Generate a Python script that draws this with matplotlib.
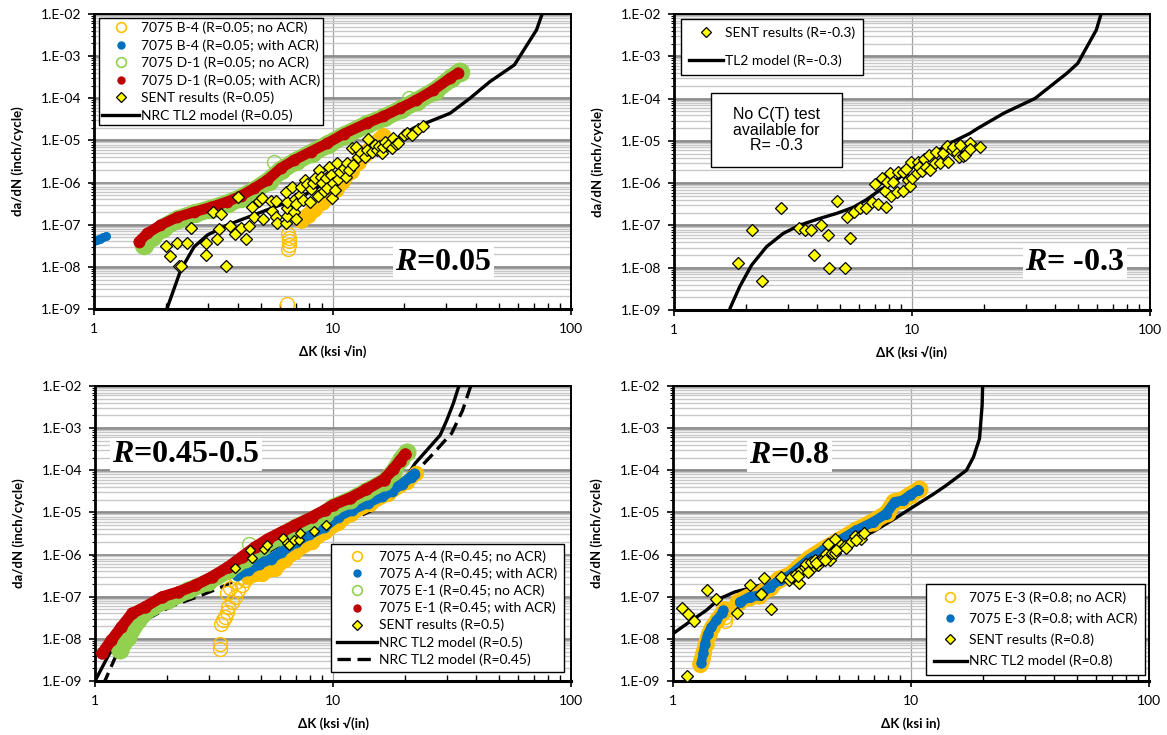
import numpy as np
import matplotlib
matplotlib.use("Agg")
import matplotlib.pyplot as plt
from matplotlib.lines import Line2D
from matplotlib.patches import Rectangle
from matplotlib.ticker import FixedLocator, LogLocator, FuncFormatter, NullFormatter

plt.rcParams['font.family'] = ['Lato', 'DejaVu Sans']
plt.rcParams['mathtext.fontset'] = 'custom'
plt.rcParams['mathtext.it'] = 'Liberation Serif:italic:bold'
plt.rcParams['mathtext.rm'] = 'Liberation Serif:bold'

ORANGE = '#FFC000'
BLUE = '#0070C0'
GREEN = '#92D050'
RED = '#C00000'
YELLOW = '#FFFF00'

# ---------------- R = 0.05 ----------------
b4_noacr_x = [7.4, 7.9, 8.4, 9.0, 9.6, 10.3, 11.0, 11.9, 12.8, 13.7, 14.7, 15.6, 16.3]
b4_noacr_y = [1.3e-7, 1.7e-7, 2.4e-7, 3.4e-7, 4.7e-7, 7.0e-7, 1.1e-6, 1.9e-6, 3.0e-6, 4.8e-6, 7.2e-6, 1.0e-5, 1.25e-5]
b4_noacr_ring_x = [6.45, 6.5, 6.55, 6.6, 6.55, 6.5]
b4_noacr_ring_y = [1.3e-9, 2.7e-8, 3.3e-8, 4.0e-8, 4.9e-8, 6.0e-8]
b4_acr_x = [1.0, 1.03, 1.06, 1.09, 1.12]
b4_acr_y = [4.1e-8, 4.4e-8, 4.7e-8, 5.0e-8, 5.3e-8]
d1_noacr_x = [1.62, 1.75, 1.95, 2.25, 2.65, 3.1, 3.65, 4.15, 4.75, 5.4, 6.1, 7.0, 8.2, 9.6,
              11.3, 14.0, 16.5, 19.4, 22.7, 26.8, 31.5, 34.3]
d1_noacr_y = [3.3e-8, 5.2e-8, 8.5e-8, 1.35e-7, 1.85e-7, 2.4e-7, 3.2e-7, 4.4e-7, 6.8e-7, 1.1e-6,
              2.0e-6, 3.2e-6, 5.1e-6, 8.1e-6, 1.35e-5, 2.4e-5, 3.5e-5, 5.5e-5, 8.8e-5, 1.5e-4,
              3.0e-4, 4.3e-4]
d1_noacr_ring_x = [5.7, 21.0]
d1_noacr_ring_y = [3.0e-6, 1.0e-4]
d1_acr_x = [1.54, 1.67, 1.90, 2.23, 2.63, 3.08, 3.62, 4.12, 4.69, 5.33, 6.07, 6.9, 8.1, 9.5,
            11.2, 13.9, 16.3, 19.2, 22.5, 26.5, 31.1, 33.7]
d1_acr_y = [3.95e-8, 6.2e-8, 9.8e-8, 1.5e-7, 2.0e-7, 2.6e-7, 3.5e-7, 4.8e-7, 7.3e-7, 1.15e-6,
            2.2e-6, 3.4e-6, 5.4e-6, 8.5e-6, 1.45e-5, 2.55e-5, 3.7e-5, 5.8e-5, 9.1e-5, 1.57e-4,
            3.0e-4, 4.05e-4]
sent_005_x = [2.01, 2.08, 2.22, 2.45, 2.27, 2.32, 2.54, 2.94, 2.96, 3.16, 3.40, 3.34, 3.27, 3.59,
              3.71, 3.89, 4.12, 4.34, 4.02, 4.47, 4.58, 4.69, 4.90, 5.10, 5.08, 5.59, 5.52, 5.80,
              5.81, 5.87, 6.40, 6.42, 6.47, 6.47, 6.40, 6.74, 6.90, 6.97, 7.03, 7.05, 7.31, 7.36,
              7.52, 7.64, 7.84, 8.02, 8.15, 8.28, 8.45, 8.67, 8.81, 8.92, 9.06, 9.21, 9.39, 9.51,
              9.67, 9.89, 9.98, 10.0, 10.2, 10.4, 10.5, 10.8, 11.2, 11.4, 11.5, 11.7, 12.1, 12.2,
              12.5, 12.8, 13.2, 13.7, 13.9, 14.1, 14.6, 15.1, 15.3, 15.6, 16.1, 16.3, 16.6, 17.1,
              17.7, 18.0, 18.5, 18.9, 20.0, 20.6, 21.5, 22.9, 24.0]
sent_005_y = [3.2e-8, 1.85e-8, 3.75e-8, 3.75e-8, 1.07e-8, 1.07e-8, 8.5e-8, 3.75e-8, 1.87e-8, 1.97e-7,
              1.8e-7, 8.05e-8, 4.66e-8, 1.07e-8, 9.3e-8, 6.0e-8, 8.4e-8, 4.7e-8, 4.6e-7, 9.5e-8,
              2.58e-7, 1.5e-7, 3.65e-7, 1.34e-7, 4.4e-7, 2.1e-7, 3.65e-7, 3.65e-7, 1.55e-7, 1.08e-7,
              1.08e-7, 1.61e-7, 2.5e-7, 3.5e-7, 6.1e-7, 7.7e-7, 2.04e-7, 4.0e-7, 1.34e-7, 3.1e-7,
              5.1e-7, 7.7e-7, 3.85e-7, 1.15e-6, 9.1e-7, 3.5e-7, 6.9e-7, 9.6e-7, 1.3e-6, 4.9e-7,
              1.99e-6, 1.38e-6, 9.6e-7, 6.3e-7, 1.26e-6, 7.3e-7, 2.38e-6, 1.51e-6, 4.2e-7, 9.6e-7,
              6.7e-7, 2.86e-6, 1.19e-6, 1.82e-6, 2.18e-6, 1.38e-6, 2.86e-6, 1.99e-6, 6.5e-6, 2.6e-6,
              6.9e-6, 4.1e-6, 4.9e-6, 4.1e-6, 5.9e-6, 1.08e-5, 5.4e-6, 7.8e-6, 5.9e-6, 7.4e-6,
              5.1e-6, 7.1e-6, 9.3e-6, 7.8e-6, 6.5e-6, 1.12e-5, 8.2e-6, 8.9e-6, 1.35e-5, 1.47e-5,
              1.35e-5, 1.83e-5, 2.2e-5]
tl2_005_x = [1.98, 2.02, 2.31, 2.63, 2.99, 3.62, 4.54, 5.69, 6.9, 8.37, 10.1, 12.3, 14.4, 18.6,
             22.0, 31.1, 37.7, 45.7, 57.9, 71.7, 75.7, 76.5]
tl2_005_y = [8e-10, 1.0e-9, 8.4e-9, 3.0e-8, 5.7e-8, 9.8e-8, 1.6e-7, 2.6e-7, 3.85e-7, 6.7e-7,
             1.38e-6, 2.86e-6, 4.6e-6, 1.1e-5, 2.0e-5, 4.4e-5, 1.0e-4, 2.48e-4, 6.2e-4, 4.2e-3,
             1.0e-2, 1.5e-2]

# ---------------- R = -0.3 ----------------
sent_m03_x = [1.85, 2.12, 2.34, 2.82, 3.35, 3.55, 3.75, 3.89, 4.15, 4.42, 4.49, 4.86, 5.23, 5.31,
              5.49, 5.72, 6.05, 6.39, 6.81, 6.99, 7.22, 7.46, 7.70, 7.75, 7.83, 8.08, 8.16, 8.35,
              8.62, 8.76, 9.14, 9.20, 9.44, 9.65, 9.81, 9.87, 9.97, 10.5, 10.6, 10.7, 11.0, 11.2,
              11.5, 11.8, 11.9, 12.5, 12.6, 13.1, 13.5, 14.0, 14.2, 14.7, 14.9, 15.4, 15.7, 15.9,
              16.3, 16.7, 17.5, 17.6, 19.4]
sent_m03_y = [1.32e-8, 7.8e-8, 4.9e-9, 2.54e-7, 8.85e-8, 7.8e-8, 7.8e-8, 1.96e-8, 1.02e-7, 5.8e-8,
              1.0e-8, 3.8e-7, 1.0e-8, 1.56e-7, 4.95e-8, 2.04e-7, 2.54e-7, 2.63e-7, 3.65e-7, 9.4e-7,
              3.15e-7, 1.3e-6, 6.5e-7, 2.78e-7, 1.08e-6, 1.7e-6, 5.0e-7, 1.08e-6, 6.3e-7, 1.87e-6,
              6.6e-7, 1.87e-6, 2.12e-6, 1.19e-6, 8.7e-7, 3.22e-6, 1.3e-6, 1.7e-6, 3.22e-6, 2.45e-6,
              1.94e-6, 3.66e-6, 2.45e-6, 4.6e-6, 2.05e-6, 2.94e-6, 5.6e-6, 3.05e-6, 5.1e-6, 7.6e-6,
              3.22e-6, 6.1e-6, 7.0e-6, 5.1e-6, 4.2e-6, 8.0e-6, 4.5e-6, 4.6e-6, 9.1e-6, 6.3e-6, 7.0e-6]
tl2_m03_x = [1.70, 1.72, 1.89, 2.12, 2.45, 2.88, 3.38, 4.11, 4.83, 5.67, 6.45, 7.34, 8.62, 10.1,
             12.3, 14.9, 17.5, 18.9, 24.3, 32.9, 44.7, 49.7, 59.5, 62.3, 63.0]
tl2_m03_y = [8e-10, 1.1e-9, 3.6e-9, 1.16e-8, 3.15e-8, 6.5e-8, 1.02e-7, 1.47e-7, 1.93e-7, 2.68e-7,
             4.1e-7, 6.9e-7, 1.19e-6, 2.45e-6, 5.1e-6, 9.6e-6, 1.5e-5, 1.98e-5, 4.5e-5, 1.01e-4,
             3.95e-4, 6.8e-4, 4.2e-3, 1.0e-2, 1.4e-2]

# ---------------- R = 0.45-0.5 ----------------
a4_noacr_x = [4.41, 5.01, 5.7, 6.29, 6.92, 8.13, 9.25, 10.5, 11.9, 14.3, 17.1, 20.5, 22.4]
a4_noacr_y = [2.94e-7, 3.5e-7, 4.6e-7, 7.3e-7, 1.15e-6, 2.0e-6, 3.4e-6, 5.5e-6, 9.3e-6, 1.6e-5,
              2.8e-5, 5.3e-5, 8.5e-5]
a4_noacr_ring_x = [3.35, 3.35, 3.40, 3.46, 3.52, 3.57, 3.63, 3.60, 3.75, 3.70, 3.87, 3.90, 4.0, 4.13, 4.27]
a4_noacr_ring_y = [5.9e-9, 7.7e-9, 2.3e-8, 2.75e-8, 3.3e-8, 4.3e-8, 5.7e-8, 1.2e-7, 7.5e-8, 1.6e-7,
                   9.9e-8, 2.2e-7, 1.42e-7, 1.86e-7, 2.45e-7]
a4_acr_x = [3.94, 4.4, 4.9, 5.5, 6.06, 7.0, 7.9, 9.2, 10.5, 12.0, 14.0, 16.0, 17.7, 19.5, 21.2, 22.0]
a4_acr_y = [3.3e-7, 4.3e-7, 6.0e-7, 8.0e-7, 1.15e-6, 2.0e-6, 3.0e-6, 4.5e-6, 8.0e-6, 1.15e-5,
            1.7e-5, 2.4e-5, 3.3e-5, 4.8e-5, 6.9e-5, 8.3e-5]
e1_noacr_x = [1.27, 1.38, 1.52, 1.73, 2.03, 2.47, 2.99, 3.63, 4.27, 5.01, 5.89, 6.92, 8.13, 9.25,
              10.0, 11.8, 13.8, 16.3, 17.9, 19.4, 20.4]
e1_noacr_y = [5.3e-9, 1.1e-8, 2.75e-8, 5.7e-8, 8.2e-8, 1.42e-7, 2.24e-7, 4.2e-7, 8.0e-7, 1.51e-6,
              2.6e-6, 4.35e-6, 6.7e-6, 9.4e-6, 1.35e-5, 2.0e-5, 3.2e-5, 5.3e-5, 9.2e-5, 1.9e-4, 2.7e-4]
e1_noacr_ring_x = [4.44]
e1_noacr_ring_y = [1.8e-6]
e1_acr_x = [1.07, 1.17, 1.29, 1.43, 1.62, 1.91, 2.24, 2.63, 3.09, 3.63, 4.13, 4.70, 5.35, 6.08,
            6.92, 8.13, 9.25, 10.0, 11.8, 13.8, 16.3, 17.9, 19.1, 20.1]
e1_acr_y = [4.5e-9, 9.2e-9, 1.9e-8, 4.0e-8, 5.7e-8, 9.9e-8, 1.3e-7, 1.86e-7, 2.94e-7, 5.1e-7,
            8.8e-7, 1.51e-6, 2.39e-6, 3.44e-6, 4.95e-6, 7.8e-6, 1.15e-5, 1.5e-5, 2.2e-5, 3.5e-5,
            6.0e-5, 1.05e-4, 1.7e-4, 2.4e-4]
sent_05_x = [3.88, 4.48, 4.58, 5.11, 5.28, 6.18, 6.43, 6.53, 6.88, 7.2, 7.27, 8.32, 9.31]
sent_05_y = [4.9e-7, 1.26e-6, 8.3e-7, 1.33e-6, 1.66e-6, 2.48e-6, 1.88e-6, 1.72e-6, 2.26e-6,
             2.26e-6, 3.3e-6, 3.56e-6, 4.93e-6]
tl2_05_x = [0.98, 1.0, 1.14, 1.3, 1.5, 1.8, 2.2, 2.8, 3.5, 4.43, 5.35, 6.5, 8.0, 10.0, 12.5,
            16.0, 20.0, 22.1, 28.2, 30.0, 32.0, 33.8, 34.3]
tl2_05_y = [8e-10, 1.0e-9, 4.1e-9, 1.3e-8, 3.0e-8, 5.5e-8, 8.5e-8, 1.4e-7, 2.6e-7, 6.1e-7,
            1.15e-6, 2.3e-6, 4.2e-6, 7.5e-6, 1.3e-5, 2.5e-5, 6.0e-5, 1.44e-4, 6.8e-4, 1.5e-3,
            3.8e-3, 1.0e-2, 1.4e-2]
tl2_045_x = [1.08, 1.10, 1.21, 1.4, 1.7, 2.1, 2.7, 3.5, 4.6, 5.8, 7.2, 9.0, 11.5, 14.5, 18.5,
             21.0, 23.2, 26.4, 30.0, 31.5, 35.0, 37.9, 38.4]
tl2_045_y = [8e-10, 1.0e-9, 3.4e-9, 1.2e-8, 3.2e-8, 6.0e-8, 1.0e-7, 1.8e-7, 4.2e-7, 9.0e-7,
             1.8e-6, 3.4e-6, 6.0e-6, 1.1e-5, 3.3e-5, 6.0e-5, 1.15e-4, 2.5e-4, 5.6e-4, 7.5e-4,
             2.6e-3, 1.0e-2, 1.4e-2]

# ---------------- R = 0.8 ----------------
e3_noacr_lo_x = [1.30, 1.32, 1.34, 1.37, 1.41, 1.46, 1.53, 1.60, 1.64]
e3_noacr_lo_y = [2.6e-9, 3.5e-9, 4.5e-9, 7.5e-9, 1.3e-8, 1.9e-8, 2.8e-8, 4.0e-8, 5.0e-8]
e3_noacr_ring_x = [1.30, 1.32, 1.66, 1.65]
e3_noacr_ring_y = [2.4e-9, 3.0e-9, 3.3e-8, 2.6e-8]
e3_noacr_hi_x = [1.88, 2.08, 2.3, 2.55, 2.8, 3.1, 3.4, 3.75, 4.25, 5.0, 5.9, 6.9, 7.9, 8.5, 9.2, 9.9, 10.8]
e3_noacr_hi_y = [7.5e-8, 1.0e-7, 1.1e-7, 1.7e-7, 2.6e-7, 3.3e-7, 5.2e-7, 8.2e-7, 1.3e-6, 2.2e-6,
                 3.8e-6, 6.0e-6, 9.5e-6, 1.8e-5, 2.0e-5, 2.6e-5, 3.5e-5]
e3_acr_lo_x = [1.315, 1.34, 1.36, 1.40, 1.45, 1.52, 1.60, 1.62]
e3_acr_lo_y = [2.7e-9, 4.5e-9, 7.7e-9, 1.33e-8, 1.9e-8, 2.75e-8, 4.0e-8, 4.75e-8]
e3_acr_hi_x = [1.91, 2.10, 2.31, 2.55, 2.81, 3.09, 3.41, 3.75, 4.27, 5.01, 5.89, 6.92, 7.88, 8.54,
               9.25, 9.87, 10.7]
e3_acr_hi_y = [7.5e-8, 9.9e-8, 1.08e-7, 1.7e-7, 2.54e-7, 3.2e-7, 5.1e-7, 8.0e-7, 1.26e-6, 2.18e-6,
               3.77e-6, 5.9e-6, 9.4e-6, 1.77e-5, 1.94e-5, 2.55e-5, 3.35e-5]
sent_08_x = [1.14, 1.09, 1.16, 1.23, 1.39, 1.52, 1.85, 2.10, 2.34, 2.41, 2.59, 2.83, 3.07, 3.40,
             3.14, 3.30, 3.46, 3.57, 3.63, 3.75, 3.81, 3.94, 4.06, 4.13, 4.27, 4.38, 4.48, 4.55,
             4.67, 4.78, 4.78, 4.93, 5.10, 5.26, 5.61, 5.80, 6.09, 6.18, 6.32, 3.35, 3.69, 4.0,
             4.34, 4.86, 5.35, 5.89]
sent_08_y = [1.3e-9, 5.5e-8, 3.8e-8, 2.6e-8, 1.47e-7, 9.0e-8, 4.1e-8, 1.86e-7, 1.18e-7, 2.79e-7,
             5.0e-8, 2.94e-7, 2.45e-7, 2.12e-7, 2.94e-7, 3.52e-7, 4.2e-7, 5.1e-7, 6.1e-7, 4.4e-7,
             6.7e-7, 7.3e-7, 5.6e-7, 7.6e-7, 8.0e-7, 1.05e-6, 1.75e-6, 7.3e-7, 1.09e-6, 2.39e-6,
             1.09e-6, 1.46e-6, 1.66e-6, 1.57e-6, 1.99e-6, 2.71e-6, 2.71e-6, 2.39e-6, 3.25e-6,
             3.05e-7, 3.86e-7, 6.3e-7, 7.3e-7, 1.26e-6, 1.46e-6, 2.18e-6]
tl2_08_x = [1.0, 1.17, 1.38, 1.57, 1.82, 2.2, 2.8, 3.5, 4.5, 5.5, 7.0, 8.5, 10.2, 12.4, 14.0,
            17.1, 18.3, 19.4, 19.9, 20.0, 20.05]
tl2_08_y = [1.33e-8, 2.5e-8, 4.75e-8, 9.0e-8, 1.3e-7, 1.7e-7, 2.6e-7, 4.5e-7, 9.5e-7, 1.8e-6,
            3.6e-6, 7.0e-6, 1.35e-5, 2.7e-5, 4.3e-5, 1.0e-4, 2.06e-4, 5.6e-4, 3.5e-3, 1.0e-2, 1.4e-2]

FIG_W, FIG_H = 1167, 735
fig = plt.figure(figsize=(FIG_W / 100, FIG_H / 100), dpi=100)


def make_axes(left, right, top, bottom):
    return fig.add_axes([left / FIG_W, 1 - bottom / FIG_H, (right - left) / FIG_W, (bottom - top) / FIG_H])


def style(ax, xlabel):
    ax.set_xscale('log')
    ax.set_yscale('log')
    ax.set_xlim(1, 100)
    ax.set_ylim(1e-9, 1e-2)
    ax.xaxis.set_major_locator(FixedLocator([1, 10, 100]))
    ax.xaxis.set_major_formatter(FuncFormatter(lambda v, p: f'{v:g}'))
    ax.xaxis.set_minor_locator(LogLocator(base=10, subs=np.arange(2, 10), numticks=100))
    ax.xaxis.set_minor_formatter(NullFormatter())
    ax.yaxis.set_major_locator(FixedLocator(10.0 ** np.arange(-9, -1)))
    ax.yaxis.set_major_formatter(FuncFormatter(lambda v, p: f'1.E-{-int(round(np.log10(v))):02d}'))
    ax.yaxis.set_minor_locator(LogLocator(base=10, subs=np.arange(2, 10), numticks=100))
    ax.yaxis.set_minor_formatter(NullFormatter())
    ax.yaxis.grid(True, which='minor', color='#C8C8C8', lw=1.0)
    ax.yaxis.grid(True, which='major', color='#8C8C8C', lw=2.0)
    ax.xaxis.grid(True, which='major', color='#A0A0A0', lw=0.9)
    ax.set_axisbelow(True)
    for s in ax.spines.values():
        s.set_color('black')
        s.set_linewidth(1.4)
    ax.spines['left'].set_linewidth(2.0)
    ax.spines['bottom'].set_linewidth(2.2)
    ax.tick_params(axis='x', which='major', direction='out', length=4, width=1.2, pad=6, labelsize=10)
    ax.tick_params(axis='x', which='minor', direction='in', length=4, width=1.0)
    ax.tick_params(axis='y', which='major', direction='out', length=4, width=1.2, pad=5, labelsize=10)
    ax.tick_params(axis='y', which='minor', direction='out', length=2.5, width=0.8)
    ax.set_ylabel('da/dN (inch/cycle)', fontsize=9.5, fontweight='bold')
    ax.yaxis.set_label_coords(-0.16, 0.5)
    ax.yaxis.label.set_va('center')
    ax.set_xlabel(xlabel, fontsize=9.5, fontweight='bold')
    ax.xaxis.set_label_coords(0.5, -0.146)
    ax.xaxis.label.set_va('center')


def band(ax, x, y, color, width, z):
    ax.plot(x, y, color=color, lw=width, solid_capstyle='round', solid_joinstyle='round',
            marker='o', ms=width, mfc=color, mec=color, zorder=z)


def rings(ax, x, y, color, z, ms=10):
    ax.plot(x, y, ls='none', marker='o', ms=ms, mfc='none', mec=color, mew=1.0, zorder=z)


def sent(ax, x, y, ms, z=6):
    ax.plot(x, y, ls='none', marker='D', ms=ms, mfc=YELLOW, mec='black', mew=0.9, zorder=z)


def tl2(ax, x, y, z=1.5, ls='-'):
    ax.plot(x, y, color='black', lw=2.4, ls=ls, zorder=z, dashes=(4, 2) if ls == '--' else (None, None))


def hollow_handle(color, label):
    return Line2D([], [], ls='none', marker='o', ms=7, mfc='none', mec=color, mew=1.2, label=label)


def filled_handle(color, label):
    return Line2D([], [], ls='none', marker='o', ms=5, mfc=color, mec=color, label=label)


def sent_handle(label):
    return Line2D([], [], ls='none', marker='D', ms=5.5, mfc=YELLOW, mec='black', mew=0.9, label=label)


def line_handle(label, ls='-'):
    h = Line2D([], [], color='black', lw=2.4, ls=ls, label=label)
    if ls == '--':
        h.set_dashes((4, 2))
    return h


def add_legend(ax, handles, loc, anchor, spacing, hlen, bpad):
    leg = ax.legend(handles=handles, loc=loc, bbox_to_anchor=anchor, borderaxespad=0,
                    fontsize=10, frameon=True, fancybox=False, edgecolor='black', framealpha=1,
                    handlelength=hlen, handletextpad=0.15, borderpad=bpad, labelspacing=spacing)
    leg.get_frame().set_linewidth(1.0)
    leg.set_zorder(20)
    return leg


def r_label(ax, text, x, y):
    ax.text(x, y, text, transform=ax.transAxes, ha='center', va='baseline', fontsize=23,
            fontfamily='Liberation Serif', fontweight='bold', zorder=15,
            bbox=dict(facecolor='white', edgecolor='none', pad=1.5))


# ---- panel: R = 0.05 ----
ax1 = make_axes(94, 571, 14, 309)
style(ax1, 'ΔK (ksi √in)')
tl2(ax1, tl2_005_x, tl2_005_y, z=5)
band(ax1, b4_noacr_x, b4_noacr_y, ORANGE, 11, 2)
rings(ax1, b4_noacr_ring_x, b4_noacr_ring_y, ORANGE, 2)
band(ax1, b4_acr_x, b4_acr_y, BLUE, 5.5, 2.2)
band(ax1, d1_noacr_x, d1_noacr_y, GREEN, 13, 2.4)
rings(ax1, d1_noacr_ring_x, d1_noacr_ring_y, GREEN, 2.4)
band(ax1, d1_acr_x, d1_acr_y, RED, 7.5, 2.6)
sent(ax1, sent_005_x, sent_005_y, 6)
add_legend(ax1, [hollow_handle(ORANGE, '7075 B-4 (R=0.05; no ACR)'),
                 filled_handle(BLUE, '7075 B-4 (R=0.05; with ACR)'),
                 hollow_handle(GREEN, '7075 D-1 (R=0.05; no ACR)'),
                 filled_handle(RED, '7075 D-1 (R=0.05; with ACR)'),
                 sent_handle('SENT results (R=0.05)'),
                 line_handle('NRC TL2 model (R=0.05)')],
           'upper left', (0.0105, 0.986), 0.36, 2.6, 0.25)
r_label(ax1, r'$R$=0.05', 0.733, 0.132)

# ---- panel: R = -0.3 ----
ax2 = make_axes(674, 1150, 14, 310)
style(ax2, 'ΔK (ksi √(in)')
tl2(ax2, tl2_m03_x, tl2_m03_y, z=3)
sent(ax2, sent_m03_x, sent_m03_y, 6.5)
add_legend(ax2, [sent_handle('SENT results (R=-0.3)'), line_handle('TL2 model (R=-0.3)')],
           'upper left', (0.0147, 0.983), 1.1, 2.5, 0.55)
ax2.add_patch(Rectangle((0.0777, 0.483), 0.275, 0.25, transform=ax2.transAxes,
                        facecolor='white', edgecolor='black', lw=1.0, zorder=10))
ax2.text(0.215, 0.608, 'No C(T) test\navailable for\nR= -0.3', transform=ax2.transAxes,
         ha='center', va='center', fontsize=11.5, fontfamily='Liberation Sans',
         linespacing=1.05, zorder=11)
r_label(ax2, r'$R$= -0.3', 0.842, 0.135)

# ---- panel: R = 0.45-0.5 ----
ax3 = make_axes(95, 571, 386, 681)
style(ax3, 'ΔK (ksi √(in)')
tl2(ax3, tl2_05_x, tl2_05_y, z=1.5)
tl2(ax3, tl2_045_x, tl2_045_y, z=1.5, ls='--')
band(ax3, a4_noacr_x, a4_noacr_y, ORANGE, 10, 2)
rings(ax3, a4_noacr_ring_x, a4_noacr_ring_y, ORANGE, 2)
band(ax3, a4_acr_x, a4_acr_y, BLUE, 7.5, 2.2)
band(ax3, e1_noacr_x, e1_noacr_y, GREEN, 12, 2.4)
rings(ax3, e1_noacr_ring_x, e1_noacr_ring_y, GREEN, 2.4)
band(ax3, e1_acr_x, e1_acr_y, RED, 8, 2.6)
sent(ax3, sent_05_x, sent_05_y, 5)
add_legend(ax3, [hollow_handle(ORANGE, '7075 A-4 (R=0.45; no ACR)'),
                 filled_handle(BLUE, '7075 A-4 (R=0.45; with ACR)'),
                 hollow_handle(GREEN, '7075 E-1 (R=0.45; no ACR)'),
                 filled_handle(RED, '7075 E-1 (R=0.45; with ACR)'),
                 sent_handle('SENT results (R=0.5)'),
                 line_handle('NRC TL2 model (R=0.5)'),
                 line_handle('NRC TL2 model (R=0.45)', '--')],
           'lower right', (0.985, 0.0305), 0.33, 2.9, 0.45)
r_label(ax3, r'$R$=0.45-0.5', 0.191, 0.742)

# ---- panel: R = 0.8 ----
ax4 = make_axes(673, 1149, 386, 681)
style(ax4, 'ΔK (ksi in)')
tl2(ax4, tl2_08_x, tl2_08_y, z=1.5)
band(ax4, e3_noacr_lo_x, e3_noacr_lo_y, ORANGE, 11, 2)
band(ax4, e3_noacr_hi_x, e3_noacr_hi_y, ORANGE, 12, 2)
rings(ax4, e3_noacr_ring_x, e3_noacr_ring_y, ORANGE, 2)
band(ax4, e3_acr_lo_x, e3_acr_lo_y, BLUE, 6.5, 2.2)
band(ax4, e3_acr_hi_x, e3_acr_hi_y, BLUE, 7, 2.2)
sent(ax4, sent_08_x, sent_08_y, 6)
add_legend(ax4, [hollow_handle(ORANGE, '7075 E-3 (R=0.8; no ACR)'),
                 filled_handle(BLUE, '7075 E-3 (R=0.8; with ACR)'),
                 sent_handle('SENT results (R=0.8)'),
                 line_handle('NRC TL2 model (R=0.8)')],
           'lower right', (0.9916, 0.02), 0.62, 2.4, 0.55)
r_label(ax4, r'$R$=0.8', 0.245, 0.739)

fig.savefig('out.png', dpi=100)
